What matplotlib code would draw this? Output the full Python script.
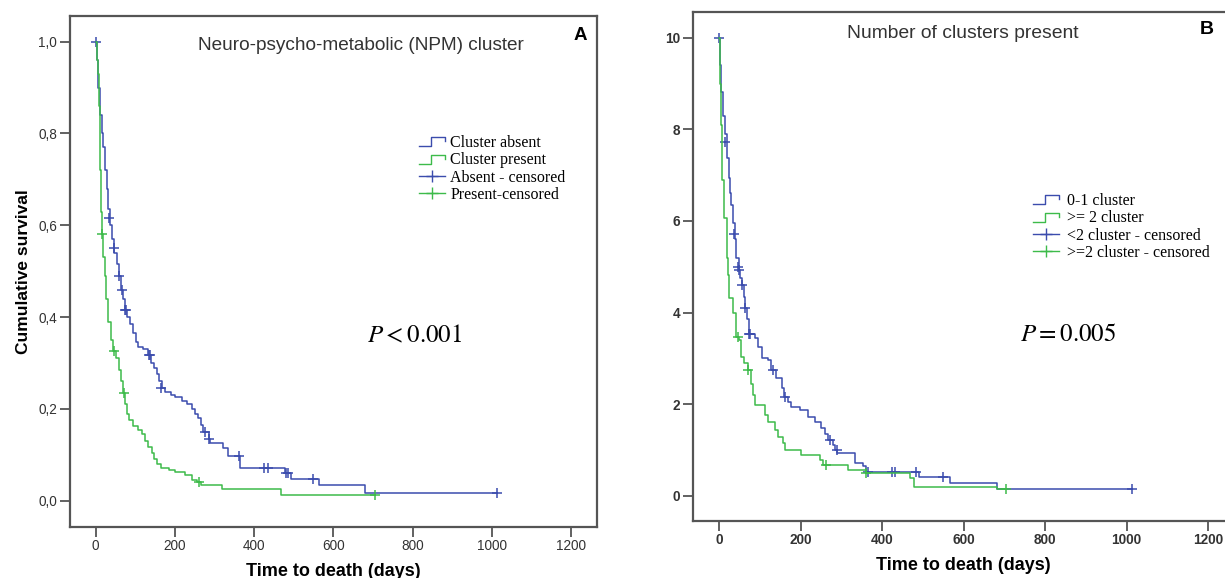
import matplotlib
matplotlib.use("Agg")
import matplotlib.pyplot as plt
from matplotlib.lines import Line2D
from matplotlib.legend_handler import HandlerBase

plt.rcParams['mathtext.fontset'] = 'stix'

BLUE = '#3b4cad'
GREEN = '#3dbb4a'
FRAME = '#555555'

# ---- panel A: Neuro-psycho-metabolic cluster (survival 0..1) ----
a_absent_t = [0, 3, 7, 11, 15, 19, 24, 28, 32, 36, 41, 47, 53, 58, 63, 68, 74, 80, 87,
              95, 102, 108, 120, 133, 140, 148, 154, 160, 167, 175, 190, 200, 217, 230,
              242, 250, 259, 266, 272, 285, 289, 321, 334, 365, 478, 493, 565, 679, 1012]
a_absent_s = [1.0, 0.96, 0.90, 0.84, 0.80, 0.77, 0.72, 0.68, 0.635, 0.60, 0.57, 0.54,
              0.515, 0.49, 0.46, 0.44, 0.415, 0.40, 0.385, 0.365, 0.345, 0.335, 0.33,
              0.318, 0.30, 0.29, 0.275, 0.26, 0.245, 0.237, 0.23, 0.225, 0.218, 0.21,
              0.20, 0.19, 0.18, 0.165, 0.15, 0.135, 0.125, 0.115, 0.097, 0.071, 0.061,
              0.048, 0.034, 0.017, 0.017]
a_absent_ct = [2, 34, 46, 58, 66, 75, 77, 134, 137, 165, 275, 286, 362, 425, 435, 481,
               485, 549, 1012]
a_absent_cs = [1.0, 0.615, 0.55, 0.49, 0.46, 0.415, 0.415, 0.318, 0.318, 0.245, 0.15,
               0.135, 0.097, 0.071, 0.071, 0.061, 0.061, 0.048, 0.017]

a_present_t = [0, 4, 7, 8, 10, 12, 14, 16, 19, 23, 27, 32, 38, 44, 52, 58, 64, 70, 75,
               79, 85, 95, 108, 118, 125, 133, 141, 148, 154, 165, 185, 200, 225, 242,
               256, 265, 318, 469, 705]
a_present_s = [1.0, 0.96, 0.93, 0.86, 0.78, 0.72, 0.63, 0.58, 0.53, 0.49, 0.44, 0.39,
               0.35, 0.326, 0.31, 0.285, 0.26, 0.234, 0.21, 0.19, 0.175, 0.163, 0.155,
               0.145, 0.13, 0.118, 0.103, 0.09, 0.08, 0.072, 0.066, 0.062, 0.056, 0.046,
               0.040, 0.034, 0.025, 0.0125, 0.0125]
a_present_ct = [16, 46, 71, 261, 705]
a_present_cs = [0.58, 0.326, 0.234, 0.040, 0.0125]

a_yticks = [0.0, 0.2, 0.4, 0.6, 0.8, 1.0]
a_yticklabels = ['0,0', '0,2', '0,4', '0,6', '0,8', '1,0']
a_labels = ['Cluster absent', 'Cluster present', 'Absent - censored', 'Present-censored']

# ---- panel B: number of clusters present (scale 0..10) ----
b_low_t = [0, 3, 5, 9, 13, 18, 23, 27, 30, 34, 38, 42, 48, 52, 56, 60, 64, 68, 72, 87,
           95, 105, 120, 128, 140, 153, 160, 168, 177, 198, 218, 234, 251, 260, 268,
           279, 285, 290, 333, 352, 361, 490, 566, 681, 1014]
b_low_s = [10.0, 9.4, 8.82, 8.3, 7.9, 7.37, 6.93, 6.6, 6.35, 5.95, 5.6, 5.2, 4.93, 4.75,
           4.6, 4.35, 4.09, 3.85, 3.53, 3.44, 3.25, 3.0, 2.96, 2.74, 2.56, 2.35, 2.15,
           2.05, 1.94, 1.87, 1.72, 1.62, 1.47, 1.35, 1.22, 1.11, 1.0, 0.93, 0.71, 0.65,
           0.52, 0.40, 0.27, 0.14, 0.14]
b_low_ct = [0, 15, 36, 46, 48, 56, 64, 73, 76, 132, 162, 271, 288, 365, 424, 431, 482,
            550, 1014]
b_low_cs = [10.0, 7.73, 5.71, 5.0, 4.93, 4.6, 4.09, 3.53, 3.53, 2.74, 2.15, 1.22, 1.0,
            0.52, 0.52, 0.52, 0.52, 0.40, 0.14]

b_high_t = [0, 1, 2, 4, 6, 8, 12, 18, 20, 22, 24, 34, 42, 48, 54, 62, 71, 79, 84, 89,
            112, 120, 136, 144, 157, 161, 202, 247, 255, 316, 361, 468, 477, 681, 703]
b_high_s = [10.0, 9.55, 9.0, 8.09, 7.4, 6.9, 6.06, 5.76, 5.2, 4.82, 4.31, 3.98, 3.47,
            3.4, 3.03, 2.9, 2.74, 2.45, 2.2, 1.98, 1.76, 1.62, 1.43, 1.29, 1.14, 1.0,
            0.89, 0.78, 0.67, 0.56, 0.50, 0.38, 0.18, 0.14, 0.14]
b_high_ct = [46, 71, 261, 361, 703]
b_high_cs = [3.47, 2.74, 0.67, 0.50, 0.14]

b_yticks = [0, 2, 4, 6, 8, 10]
b_labels = ['0-1 cluster', '>= 2 cluster', '<2 cluster - censored', '>=2 cluster - censored']

x_ticks = [0, 200, 400, 600, 800, 1000, 1200]


class StepHandler(HandlerBase):
    # little "_|‾|" glyph like the SPSS legend
    def create_artists(self, legend, orig_handle, xdescent, ydescent,
                       width, height, fontsize, trans):
        x0, y0 = -xdescent, -ydescent
        xs = [x0, x0 + 0.45 * width, x0 + 0.45 * width, x0 + width, x0 + width]
        ys = [y0 + 0.05 * height, y0 + 0.05 * height, y0 + 0.85 * height,
              y0 + 0.85 * height, y0 + 0.5 * height]
        return [Line2D(xs, ys, color=orig_handle.get_color(), lw=1.0, transform=trans)]


def style_axes(ax, bold_ticks=False):
    for sp in ax.spines.values():
        sp.set_color(FRAME)
        sp.set_linewidth(1.6)
    ax.tick_params(direction='out', length=7, width=1.3, color=FRAME, pad=2,
                   labelsize=9.8, labelcolor='#333333')
    ax.set_xticks(x_ticks)
    for lab in ax.get_xticklabels() + ax.get_yticklabels():
        lab.set_family('Liberation Sans')
        if bold_ticks:
            lab.set_fontweight('bold')
    ax.set_xlabel('Time to death (days)', fontsize=13, fontweight='bold',
                  family='Liberation Sans', labelpad=7)


def km(ax, t, s, ct, cs, color):
    ax.step(t, s, where='post', color=color, lw=1.1)
    ax.plot(ct, cs, '+', color=color, ms=7, mew=1.1, linestyle='none')


fig = plt.figure(figsize=(12.25, 5.78), dpi=100)
W, H = 1225.0, 578.0

# panel A
axA = fig.add_axes([69.7 / W, (H - 526.7) / H, (597 - 69.7) / W, (526.7 - 15.7) / H])
km(axA, a_absent_t, a_absent_s, a_absent_ct, a_absent_cs, BLUE)
km(axA, a_present_t, a_present_s, a_present_ct, a_present_cs, GREEN)
axA.set_xlim(-65.6, 1265.6)
axA.set_ylim(-0.0566, 1.0566)
axA.set_yticks(a_yticks, labels=a_yticklabels)
style_axes(axA)
axA.set_ylabel('Cumulative survival', fontsize=12.5, fontweight='bold',
               family='Liberation Sans', labelpad=5)
fig.text(361 / W, 1 - 45 / H, 'Neuro-psycho-metabolic (NPM) cluster', ha='center',
         va='center', fontsize=13.7, family='Liberation Sans', color='#333333')
fig.text(580 / W, 1 - 35 / H, 'A', ha='center', va='center', fontsize=13.5,
         fontweight='bold', family='Liberation Sans')
fig.text(415 / W, 1 - 335 / H, r'$P<0.001$', ha='center', va='center', fontsize=18)

hA = [Line2D([], [], color=BLUE), Line2D([], [], color=GREEN),
      Line2D([], [], color=BLUE, marker='+', ms=8, lw=1.0),
      Line2D([], [], color=GREEN, marker='+', ms=8, lw=1.0)]
hmap = {hA[0]: StepHandler(), hA[1]: StepHandler()}
axA.legend(hA, a_labels, handler_map=hmap, loc='upper left',
           bbox_to_anchor=(419 / W, 1 - 135 / H), bbox_transform=fig.transFigure,
           frameon=False, borderpad=0, borderaxespad=0, handlelength=1.6,
           handletextpad=0.35, labelspacing=0.08,
           prop={'family': 'Liberation Serif', 'size': 11.5})

# panel B (right edge runs past the figure, as in the source image)
axB = fig.add_axes([692.5 / W, (H - 520.7) / H, (1234.7 - 692.5) / W, (520.7 - 11.7) / H])
km(axB, b_low_t, b_low_s, b_low_ct, b_low_cs, BLUE)
km(axB, b_high_t, b_high_s, b_high_ct, b_high_cs, GREEN)
axB.set_xlim(-65.6, 1265.6)
axB.set_ylim(-0.546, 10.57)
axB.set_yticks(b_yticks)
style_axes(axB, bold_ticks=True)
fig.text(962.8 / W, 1 - 33 / H, 'Number of clusters present', ha='center',
         va='center', fontsize=13.9, family='Liberation Sans', color='#333333')
fig.text(1207 / W, 1 - 30 / H, 'B', ha='center', va='center', fontsize=14,
         fontweight='bold', family='Liberation Sans')
fig.text(1068 / W, 1 - 334 / H, r'$P=0.005$', ha='center', va='center', fontsize=18)

hB = [Line2D([], [], color=BLUE), Line2D([], [], color=GREEN),
      Line2D([], [], color=BLUE, marker='+', ms=8, lw=1.0),
      Line2D([], [], color=GREEN, marker='+', ms=8, lw=1.0)]
hmapB = {hB[0]: StepHandler(), hB[1]: StepHandler()}
axB.legend(hB, b_labels, handler_map=hmapB, loc='upper left',
           bbox_to_anchor=(1033 / W, 1 - 193 / H), bbox_transform=fig.transFigure,
           frameon=False, borderpad=0, borderaxespad=0, handlelength=1.6,
           handletextpad=0.55, labelspacing=0.08,
           prop={'family': 'Liberation Serif', 'size': 11.5})

fig.savefig('out.png', dpi=100)
